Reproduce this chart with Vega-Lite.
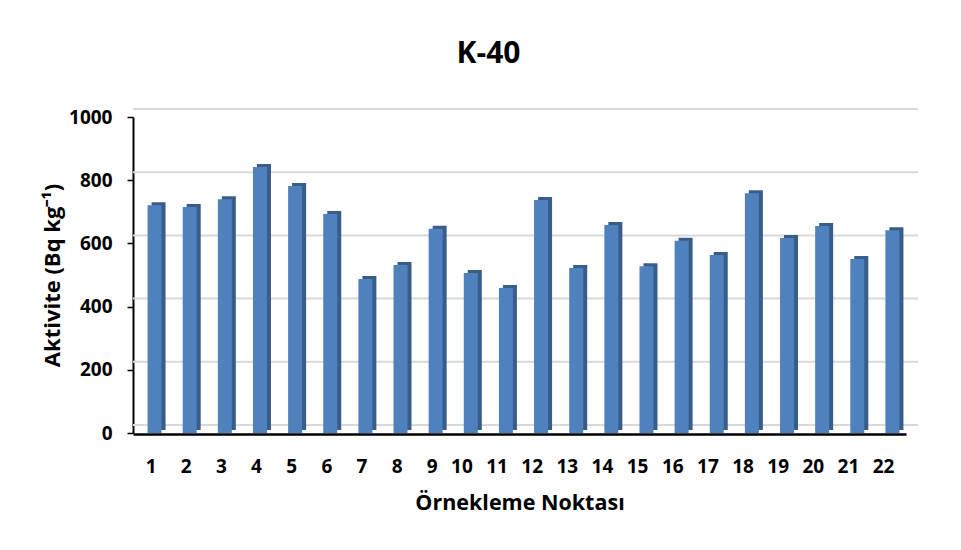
{
  "$schema": "https://vega.github.io/schema/vega-lite/v6.json",
  "autosize": "none",
  "width": 773,
  "height": 316,
  "padding": {"left": 133, "top": 117, "right": 55, "bottom": 117},
  "background": "white",
  "title": {
    "text": "K-40",
    "font": "Open Sans",
    "fontSize": 30,
    "fontWeight": "bold",
    "color": "black",
    "anchor": "middle",
    "dx": -31,
    "offset": 39
  },
  "config": {
    "view": {"stroke": null},
    "font": "Open Sans"
  },
  "datasets": {
    "grid": [
      {"v": 0}, {"v": 200}, {"v": 400}, {"v": 600}, {"v": 800}, {"v": 1000}
    ]
  },
  "data": {
    "values": [
      {"nokta": "1", "aktivite": 721},
      {"nokta": "2", "aktivite": 715},
      {"nokta": "3", "aktivite": 740},
      {"nokta": "4", "aktivite": 842},
      {"nokta": "5", "aktivite": 782},
      {"nokta": "6", "aktivite": 693},
      {"nokta": "7", "aktivite": 487},
      {"nokta": "8", "aktivite": 532},
      {"nokta": "9", "aktivite": 646},
      {"nokta": "10", "aktivite": 506},
      {"nokta": "11", "aktivite": 459},
      {"nokta": "12", "aktivite": 737},
      {"nokta": "13", "aktivite": 522},
      {"nokta": "14", "aktivite": 658},
      {"nokta": "15", "aktivite": 528},
      {"nokta": "16", "aktivite": 608},
      {"nokta": "17", "aktivite": 563},
      {"nokta": "18", "aktivite": 759},
      {"nokta": "19", "aktivite": 617},
      {"nokta": "20", "aktivite": 655},
      {"nokta": "21", "aktivite": 551},
      {"nokta": "22", "aktivite": 642}
    ]
  },
  "layer": [
    {
      "data": {"name": "grid"},
      "mark": {"type": "rule", "color": "#D9D9D9", "strokeWidth": 2, "xOffset": 12, "x2Offset": 12, "yOffset": -8},
      "encoding": {
        "y": {
          "field": "v", "type": "quantitative", "scale": {"domain": [0, 1000]},
          "axis": {
            "title": "Aktivite (Bq kg⁻¹)",
            "titleFont": "Open Sans", "titleFontSize": 22, "titleFontWeight": "bold", "titleColor": "black", "titlePadding": 4,
            "values": [0, 200, 400, 600, 800, 1000], "format": "d",
            "grid": false,
            "labelFont": "Open Sans", "labelFontSize": 19, "labelFontWeight": "bold", "labelColor": "black", "labelPadding": 15,
            "tickColor": "black", "tickSize": 6, "tickWidth": 1.5,
            "domainColor": "black", "domainWidth": 2
          }
        }
      }
    },
    {
      "mark": {"type": "bar", "width": 14, "xOffset": 8, "yOffset": -3, "color": "#385D8A"},
      "encoding": {
        "x": {"field": "nokta", "type": "ordinal", "sort": null, "scale": {"paddingInner": 0, "paddingOuter": 0}},
        "y": {"field": "aktivite", "type": "quantitative"}
      }
    },
    {
      "mark": {"type": "bar", "width": 14, "xOffset": 4, "color": "#4F81BD"},
      "encoding": {
        "x": {
          "field": "nokta", "type": "ordinal", "sort": null,
          "scale": {"paddingInner": 0, "paddingOuter": 0},
          "axis": {
            "title": "Örnekleme Noktası",
            "titleFont": "Open Sans", "titleFontSize": 21.5, "titleFontWeight": "bold", "titleColor": "black", "titlePadding": 16,
            "labelFont": "Open Sans", "labelFontSize": 19, "labelFontWeight": "bold", "labelColor": "black", "labelAngle": 0, "labelPadding": 32, "labelOffset": 6,
            "ticks": false, "domainColor": "black", "domainWidth": 2.5, "offset": 1
          }
        },
        "y": {
          "field": "aktivite", "type": "quantitative",
          "scale": {"domain": [0, 1000]},
          "axis": {
            "title": "Aktivite (Bq kg⁻¹)",
            "titleFont": "Open Sans", "titleFontSize": 22, "titleFontWeight": "bold", "titleColor": "black", "titlePadding": 4,
            "values": [0, 200, 400, 600, 800, 1000], "format": "d",
            "grid": false,
            "labelFont": "Open Sans", "labelFontSize": 19, "labelFontWeight": "bold", "labelColor": "black", "labelPadding": 15,
            "tickColor": "black", "tickSize": 6, "tickWidth": 1.5,
            "domainColor": "black", "domainWidth": 2
          }
        }
      }
    }
  ]
}
